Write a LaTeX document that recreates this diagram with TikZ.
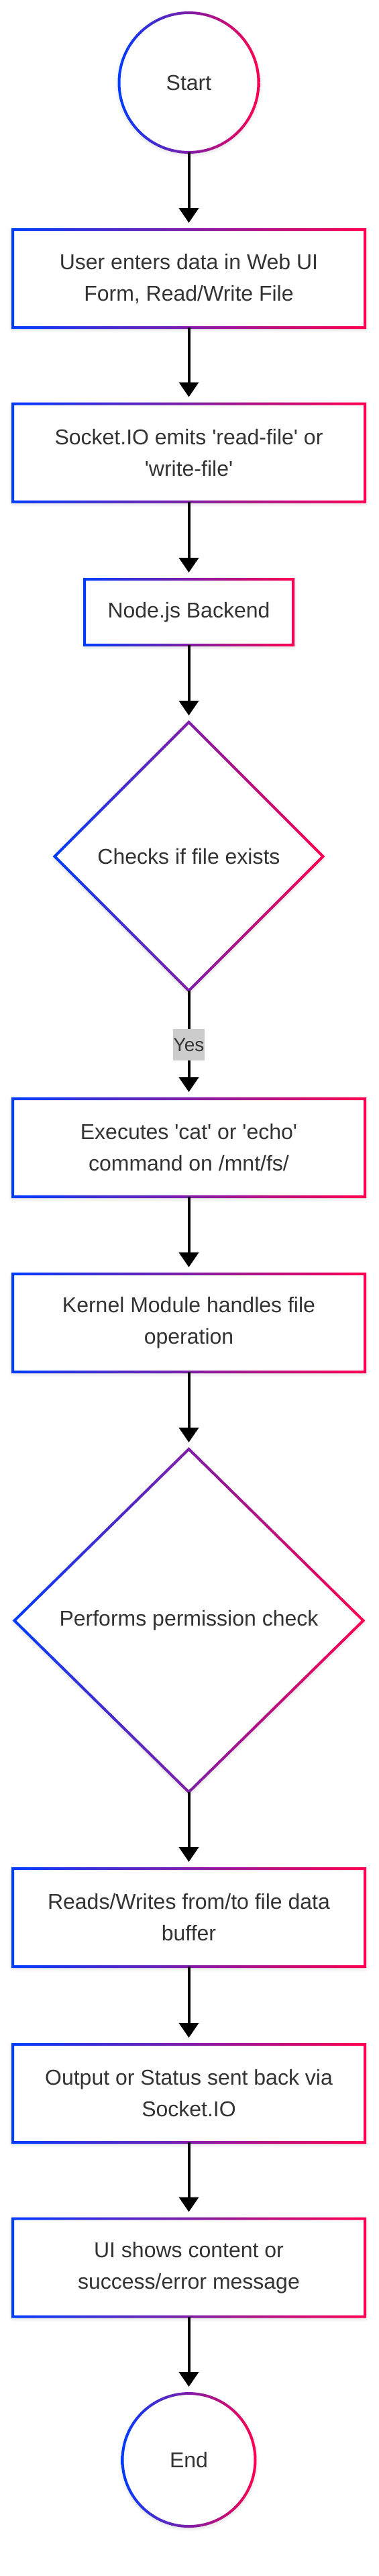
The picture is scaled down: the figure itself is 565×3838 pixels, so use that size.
\documentclass[tikz,border=0pt]{standalone}
\usepackage{fontspec}
\setmainfont{Liberation Sans}
\usetikzlibrary{arrows.meta,shapes.geometric,shadows.blur}

\definecolor{rimblue}{RGB}{0,60,255}
\definecolor{rimred}{RGB}{255,0,80}
\definecolor{inktext}{RGB}{51,51,51}
\definecolor{yesgray}{RGB}{204,204,204}

\newcommand{\sq}{\textquotesingle}
% gradient rims, laid over the white shapes
\newcommand{\boxrim}[1]{%
  \shade[even odd rule, left color=rimblue, right color=rimred]
    ([shift={(-1pt,1pt)}]#1.north west) rectangle ([shift={(1pt,-1pt)}]#1.south east)
    ([shift={(1pt,-1pt)}]#1.north west) rectangle ([shift={(-1pt,1pt)}]#1.south east);}
\newcommand{\roundrim}[2]{%
  \shade[even odd rule, left color=rimblue, right color=rimred]
    (#1.center) circle[radius=#2+1pt] (#1.center) circle[radius=#2-1pt];}
\newcommand{\diamondrim}[1]{%
  \shade[even odd rule, left color=rimblue, right color=rimred]
    ([yshift=1.42pt]#1.north) -- ([xshift=1.42pt]#1.east) -- ([yshift=-1.42pt]#1.south) -- ([xshift=-1.42pt]#1.west) -- cycle
    ([yshift=-1.42pt]#1.north) -- ([xshift=-1.42pt]#1.east) -- ([yshift=1.42pt]#1.south) -- ([xshift=1.42pt]#1.west) -- cycle;}

\begin{document}
\begin{tikzpicture}[x=0.5pt, y=-0.5pt, >={Triangle[width=14.5pt,length=11pt]},
    font=\fontsize{16pt}{23.5pt}\selectfont, text=inktext,
    softshadow/.style={blur shadow={shadow xshift=0pt, shadow yshift=-1pt, shadow blur radius=3pt, shadow opacity=20}},
    stepbox/.style={rectangle, fill=white, outer sep=0pt, inner sep=0pt, minimum width=262.5pt, minimum height=73pt, align=center, softshadow},
    terminal/.style={circle, fill=white, outer sep=0pt, inner sep=0pt, align=center, softshadow},
    check/.style={diamond, aspect=1, fill=white, outer sep=0pt, inner sep=0pt, align=center, softshadow},
    flow/.style={->, line width=2pt, shorten >=5pt},
    yeslabel/.style={fill=yesgray, inner xsep=0.5pt, inner ysep=0pt, minimum height=23.5pt, font=\fontsize{14pt}{17pt}\selectfont}]
    \useasboundingbox (0,0) rectangle (565,3838);
    \node[terminal, minimum size=104pt] (start) at (281.5,123) {Start};
    \node[stepbox] (enter) at (281.5,415) {User enters data in Web UI\\Form, Read/Write File};
    \node[stepbox] (emit) at (281.5,674.5) {Socket.IO emits \sq{}read-file\sq{} or\\\sq{}write-file\sq{}};
    \node[stepbox, minimum width=155.5pt, minimum height=49pt] (backend) at (281.5,912) {Node.js Backend};
    \node[check, minimum width=200pt, minimum height=200pt] (exists) at (281.5,1276) {Checks if file exists};
    \node[stepbox] (exec) at (281.5,1710) {Executes \sq{}cat\sq{} or \sq{}echo\sq{}\\command on /mnt/fs/};
    \node[stepbox] (kernel) at (281.5,1971) {Kernel Module handles file\\operation};
    \node[check, minimum width=260pt, minimum height=255.5pt] (perm) at (281.5,2414.5) {Performs permission check};
    \node[stepbox] (buffer) at (281.5,2857) {Reads/Writes from/to file data\\buffer};
    \node[stepbox] (reply) at (281.5,3119) {Output or Status sent back via\\Socket.IO};
    \node[stepbox] (ui) at (281.5,3378.5) {UI shows content or\\success/error message};
    \node[terminal, minimum size=99pt] (finish) at (281.5,3665) {End};
    \roundrim{start}{52pt}
    \boxrim{enter}
    \boxrim{emit}
    \boxrim{backend}
    \diamondrim{exists}
    \boxrim{exec}
    \boxrim{kernel}
    \diamondrim{perm}
    \boxrim{buffer}
    \boxrim{reply}
    \boxrim{ui}
    \roundrim{finish}{49.5pt}
    \draw[flow] (start) -- (enter);
    \draw[flow] (enter) -- (emit);
    \draw[flow] (emit) -- (backend);
    \draw[flow] (backend) -- (exists);
    \draw[flow] (exists) -- node[yeslabel] {Yes} (exec);
    \draw[flow] (exec) -- (kernel);
    \draw[flow] (kernel) -- (perm);
    \draw[flow] (perm) -- (buffer);
    \draw[flow] (buffer) -- (reply);
    \draw[flow] (reply) -- (ui);
    \draw[flow] (ui) -- (finish);
\end{tikzpicture}
\end{document}
